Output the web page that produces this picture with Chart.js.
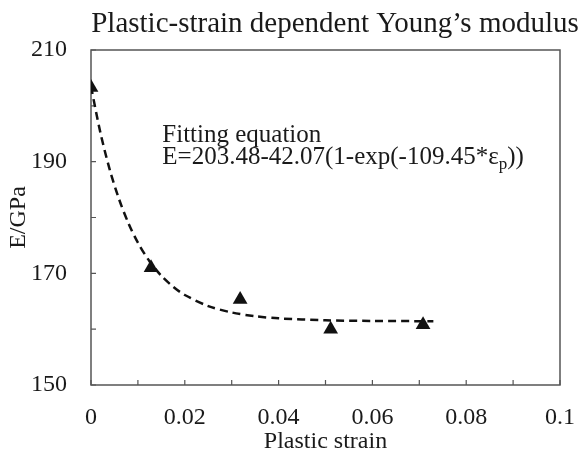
<!DOCTYPE html>
<html>
<head>
<meta charset="utf-8">
<script src="https://cdn.jsdelivr.net/npm/chart.js@4/dist/chart.umd.min.js"></script>
<style>
  html, body { margin: 0; padding: 0; background: #fff; }
  #wrap { width: 585px; height: 463px; position: relative; }
</style>
</head>
<body>
<div id="wrap"><canvas id="chart"></canvas></div>
<script>
  // measured points (plastic strain, E in GPa)
  const strainPts = [0, 0.0128, 0.0318, 0.0511, 0.0708];
  const modulusPts = [203.3, 171.0, 165.3, 160.0, 160.8];

  // dashed fitting curve
  const fitStrain = [0, 0.002, 0.004, 0.006, 0.008, 0.01, 0.0125, 0.015, 0.0175, 0.02,
    0.025, 0.03, 0.035, 0.04, 0.05, 0.06, 0.073];
  const fitModulus = [203.48, 195.21, 188.56, 183.23, 178.94, 175.49, 172.12, 169.56, 167.61, 166.12,
    164.14, 162.99, 162.32, 161.94, 161.59, 161.47, 161.43];

  const xTickLabels = ["0", "0.02", "0.04", "0.06", "0.08", "0.1"];
  const yTickLabels = ["150", "170", "190", "210"];

  const SERIF = "'Liberation Serif', 'DejaVu Serif', serif";
  const INK = "#1a1a1a";
  const AXIS = "#555";

  // box round the plot + short inward tick marks
  const framePlugin = {
    id: "frame",
    beforeDatasetsDraw(chart) {
      const { ctx, chartArea: a, scales } = chart;
      ctx.save();
      ctx.strokeStyle = AXIS;
      ctx.lineWidth = 1.5;
      ctx.strokeRect(a.left, a.top, a.right - a.left, a.bottom - a.top);
      ctx.lineWidth = 1.2;
      ctx.beginPath();
      scales.x.ticks.forEach((t) => {
        const px = scales.x.getPixelForValue(t.value);
        ctx.moveTo(px, a.bottom);
        ctx.lineTo(px, a.bottom - 5);
      });
      scales.y.ticks.forEach((t) => {
        const py = scales.y.getPixelForValue(t.value);
        ctx.moveTo(a.left, py);
        ctx.lineTo(a.left + 5, py);
      });
      ctx.stroke();
      ctx.restore();
    },
    afterDraw(chart) {
      const { ctx, scales } = chart;
      ctx.save();
      ctx.fillStyle = INK;
      ctx.textBaseline = "alphabetic";

      // title
      ctx.font = "29px " + SERIF;
      ctx.textAlign = "center";
      ctx.fillText("Plastic-strain dependent Young\u2019s modulus", 335, 32);

      // fitting equation note
      ctx.textAlign = "left";
      const x0 = scales.x.getPixelForValue(0.0152);
      const y1 = scales.y.getPixelForValue(193.5);
      const y2 = scales.y.getPixelForValue(189.6);
      ctx.font = "25px " + SERIF;
      ctx.fillText("Fitting equation", x0, y1);
      const main = "E=203.48-42.07(1-exp(-109.45*\u03b5";
      ctx.fillText(main, x0, y2);
      let x = x0 + ctx.measureText(main).width;
      ctx.font = "17px " + SERIF;
      ctx.fillText("p", x, y2 + 5);
      x += ctx.measureText("p").width;
      ctx.font = "25px " + SERIF;
      ctx.fillText("))", x, y2);
      ctx.restore();
    },
  };

  new Chart(document.getElementById("chart"), {
    type: "scatter",
    data: {
      datasets: [
        {
          label: "Experiment",
          data: strainPts.map((v, i) => ({ x: v, y: modulusPts[i] })),
          pointStyle: "triangle",
          pointRadius: 8.5,
          pointHoverRadius: 8.5,
          backgroundColor: "#111",
          borderColor: "#111",
          borderWidth: 0,
          order: 0,
        },
        {
          label: "Fitting",
          data: fitStrain.map((v, i) => ({ x: v, y: fitModulus[i] })),
          showLine: true,
          borderColor: "#111",
          borderWidth: 2.5,
          borderDash: [8, 5],
          tension: 0.3,
          pointRadius: 0,
          fill: false,
          order: 1,
        },
      ],
    },
    options: {
      responsive: true,
      maintainAspectRatio: false,
      animation: false,
      layout: { padding: { top: 50, right: 20, left: 0, bottom: 0 } },
      plugins: {
        legend: { display: false },
        title: { display: false },
        tooltip: { enabled: false },
      },
      scales: {
        x: {
          type: "linear",
          min: 0,
          max: 0.1,
          grid: { display: false },
          border: { display: false },
          ticks: {
            stepSize: 0.01,
            autoSkip: false,
            maxRotation: 0,
            padding: 10,
            color: INK,
            font: { family: SERIF, size: 24 },
            callback: (v, i) => (i % 2 === 0 ? xTickLabels[i / 2] : ""),
          },
          title: {
            display: true,
            text: "Plastic strain",
            color: INK,
            font: { family: SERIF, size: 24 },
            padding: { top: 0, bottom: 7 },
          },
          afterFit: (s) => { s.height = 78; },
        },
        y: {
          type: "linear",
          min: 150,
          max: 210,
          grid: { display: false },
          border: { display: false },
          ticks: {
            stepSize: 10,
            autoSkip: false,
            padding: 16,
            color: INK,
            font: { family: SERIF, size: 24 },
            callback: (v, i) => (i % 2 === 0 ? yTickLabels[i / 2] : ""),
          },
          title: {
            display: true,
            text: "E/GPa",
            color: INK,
            font: { family: SERIF, size: 24 },
            padding: { top: 4, bottom: 0 },
          },
          afterFit: (s) => { s.width = 91; },
        },
      },
    },
    plugins: [framePlugin],
  });
</script>
</body>
</html>
